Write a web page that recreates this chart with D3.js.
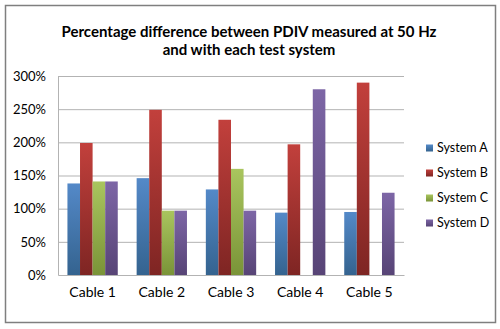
<!DOCTYPE html>
<html><head><meta charset="utf-8">
<script src="https://cdn.jsdelivr.net/npm/d3@7"></script>
<style>
html,body{margin:0;padding:0;background:#fff;}
svg text{font-family:Lato,"Open Sans",sans-serif;fill:#000;}
</style></head>
<body>
<svg id="c" width="500" height="329"></svg>
<script>
const categories = ["Cable 1","Cable 2","Cable 3","Cable 4","Cable 5"];
const seriesNames = ["System A","System B","System C","System D"];
const systemA = [138, 146, 129, 94, 95];
const systemB = [199, 249, 234, 197, 290];
const systemC = [141, 97, 160, null, null];
const systemD = [141, 97, 97, 280, 124];
const yTicks = [0, 50, 100, 150, 200, 250, 300];
const titleLines = ["Percentage difference between PDIV measured at 50 Hz", "and with each test system"];

const seriesValues = [systemA, systemB, systemC, systemD];
const colors = [
  {top:"#5489c8", bot:"#34638f"},
  {top:"#c2403c", bot:"#7e2523"},
  {top:"#a9c55e", bot:"#7a9438"},
  {top:"#7d66a6", bot:"#574476"}
];

const svg = d3.select("#c");
const defs = svg.append("defs");
colors.forEach((c,i)=>{
  const g = defs.append("linearGradient").attr("id","g"+i).attr("x1",0).attr("x2",0).attr("y1",0).attr("y2",1);
  g.append("stop").attr("offset","0%").attr("stop-color",c.top);
  g.append("stop").attr("offset","100%").attr("stop-color",c.bot);
});

// frame
svg.append("rect").attr("x",5.5).attr("y",5.5).attr("width",490).attr("height",317)
  .attr("fill","#fff").attr("stroke","#7f7f7f").attr("stroke-width",1.5);

// title
svg.append("g").selectAll("text").data(titleLines).join("text")
  .attr("x",249).attr("y",(d,i)=>37+i*18)
  .attr("text-anchor","middle").attr("font-weight","bold").attr("font-size",15)
  .text(d=>d);

const L=58, R=404, T=76, B=275;
const x0 = d3.scaleBand().domain(categories).range([L,R]).padding(0);
const bw = x0.bandwidth();
const gap = bw*1.5/5.5;
const x1 = d3.scaleBand().domain(seriesNames).range([gap/2, bw-gap/2]).padding(0);
const y = d3.scaleLinear().domain([0,300]).range([B,T]);

// gridlines
svg.append("g").selectAll("line").data(yTicks.filter(v=>v>0)).join("line")
  .attr("x1",L).attr("x2",R).attr("y1",d=>y(d)+0.5).attr("y2",d=>y(d)+0.5)
  .attr("stroke","#b3b3b3").attr("stroke-width",1);

// y axis
const yAxis = d3.axisLeft(y).tickValues(yTicks).tickFormat(d=>d+"%").tickSize(0).tickPadding(12);
const ya = svg.append("g").attr("transform",`translate(${L},0)`).call(yAxis);
ya.select(".domain").attr("stroke","#b3b3b3");
ya.selectAll("text").attr("font-size",13).style("font-family","Lato,sans-serif");

// bars
const bars = svg.append("g");
seriesValues.forEach((vals,si)=>{
  bars.append("g").selectAll("rect")
    .data(vals.map((v,ci)=>({v,c:categories[ci]})).filter(d=>d.v!=null))
    .join("rect")
    .attr("x",d=>x0(d.c)+x1(seriesNames[si]))
    .attr("width",x1.bandwidth())
    .attr("y",d=>y(d.v))
    .attr("height",d=>B-y(d.v))
    .attr("fill",`url(#g${si})`);
});

// x axis
const xAxis = d3.axisBottom(x0).tickSize(0).tickPadding(12);
const xa = svg.append("g").attr("transform",`translate(0,${B})`).call(xAxis);
xa.select(".domain").attr("stroke","#b3b3b3");
xa.selectAll("text").attr("font-size",14).style("font-family","Lato,sans-serif");

// legend
const leg = svg.append("g").selectAll("g").data(seriesNames).join("g")
  .attr("transform",(d,i)=>`translate(426,${148+i*25})`);
leg.append("rect").attr("x",0).attr("y",-3.5).attr("width",7).attr("height",7)
  .attr("fill",(d,i)=>`url(#g${i})`);
leg.append("text").attr("x",11).attr("y",0).attr("dy","0.35em").attr("font-size",12.5).text(d=>d);
</script>
</body></html>
